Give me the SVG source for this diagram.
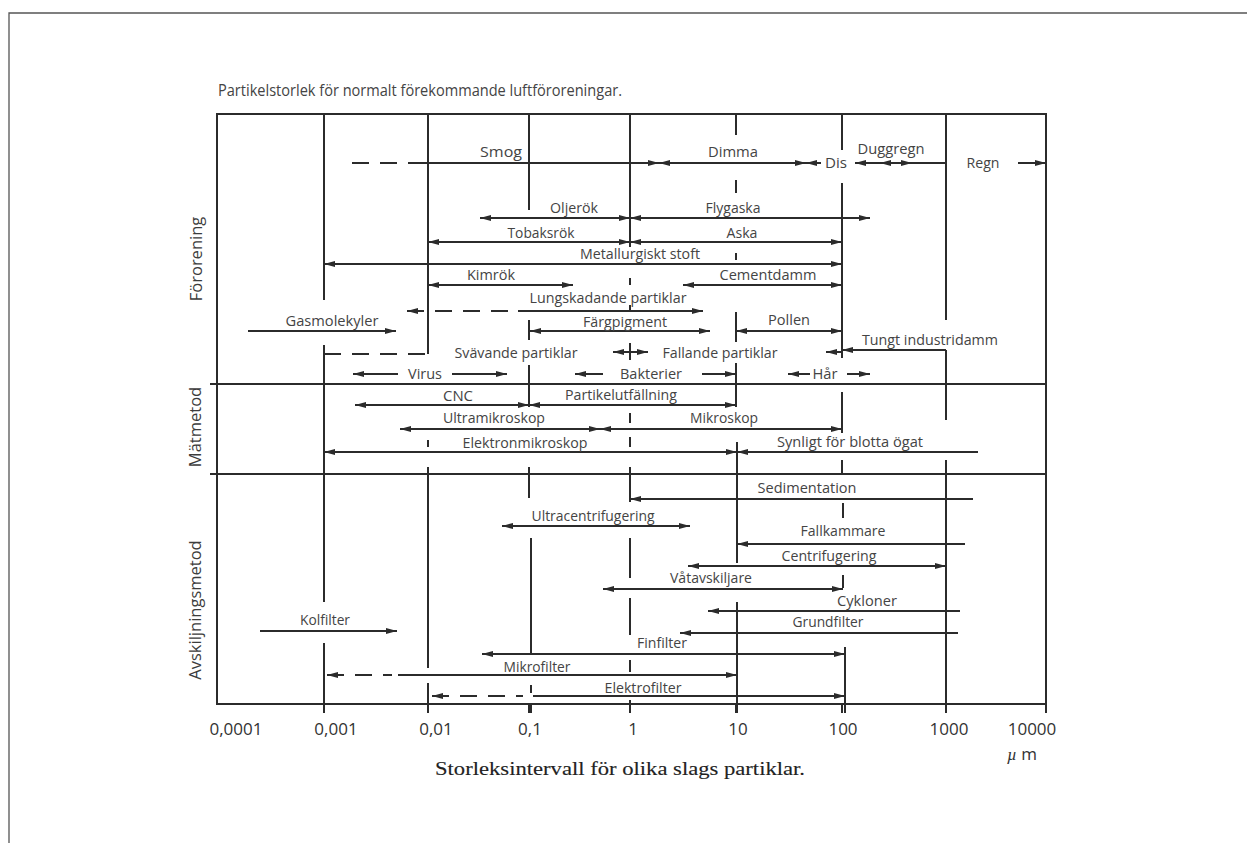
<svg xmlns="http://www.w3.org/2000/svg" width="1247" height="843" viewBox="0 0 1247 843">
<style>
.ln{stroke:#2b2b2b;stroke-width:2;fill:none}
.dsh{stroke:#2b2b2b;stroke-width:2;fill:none;stroke-dasharray:17 11}
.ar{marker-end:url(#ah)}
.al{marker-start:url(#ah)}
.t{font-family:"Open Sans","Liberation Sans",sans-serif;font-size:14px;fill:#444;text-anchor:middle}
.ax{font-family:"Open Sans","Liberation Sans",sans-serif;font-size:17px;fill:#333;text-anchor:middle}
.yl{font-family:"Open Sans","Liberation Sans",sans-serif;font-size:16.5px;fill:#3c3c3c;text-anchor:middle}
.cap{font-family:"Liberation Serif",serif;font-size:19px;fill:#222;stroke:#222;stroke-width:0.12}
.pg{stroke:#555;stroke-width:1.3;fill:none}
</style>
<defs>
<marker id="ah" viewBox="0 0 11 7" refX="11" refY="3.5" markerWidth="11" markerHeight="7" markerUnits="userSpaceOnUse" orient="auto-start-reverse">
<path d="M0,0.5 L11,3.5 L0,6.5 Z" fill="#2b2b2b"/>
</marker>
</defs>
<rect width="1247" height="843" fill="#fff"/>
<path class="pg" d="M9,843 V13 H1247"/>
<text x="218" y="96" font-family="Open Sans, Liberation Sans, sans-serif" font-size="16" fill="#444" textLength="404" lengthAdjust="spacingAndGlyphs">Partikelstorlek för normalt förekommande luftföroreningar.</text>

<g id="frame">
<rect class="ln" x="217" y="114" width="829" height="590"/>
<path class="ln" d="M210,384 H1046 M210,474 H1046"/>
<path class="ln" d="M1046,704 V713 M324,704 V713 M428,704 V713 M529,704 V713 M630,704 V713 M736,704 V713 M842,704 V713 M946,704 V713"/>
</g>
<g id="gridlines">
<path class="ln" d="M324,114 V300 M324,345 V602 M324,643 V713"/>
<path class="ln" d="M428,114 V354 M428,440 V447 M428,467 V668 M428,683 V713"/>
<path class="ln" d="M529,114 V210 M529,320 V340 M529,365 V407 M529,467 V498 M531,538 V653 M531,685 V693 M531,703 V713"/>
<path class="ln" d="M630,114 V247 M630,278 V285 M630,305 V311 M630,343 V360 M630,413 V423 M630,437 V447 M630,467 V502 M630,538 V578 M630,598 V635 M630,660 V672 M630,700 V713"/>
<path class="ln" d="M736,114 V135 M736,180 V193 M736,253 V260 M736,312 V342 M736,363 V407 M737,442 V563 M737,602 V713"/>
<path class="ln" d="M842,114 V150 M842,183 V358 M842,392 V433 M842,460 V473 M843,503 V518 M843,575 V588 M845,647 V713"/>
<path class="ln" d="M946,114 V320 M946,350 V420 M946,460 V713"/>
</g>

<g id="axis-labels">
<text class="ax" x="236" y="735">0,0001</text>
<text class="ax" x="336" y="735">0,001</text>
<text class="ax" x="436" y="735">0,01</text>
<text class="ax" x="530" y="735">0,1</text>
<text class="ax" x="633" y="735">1</text>
<text class="ax" x="738" y="735">10</text>
<text class="ax" x="843" y="735">100</text>
<text class="ax" x="949" y="735">1000</text>
<text class="ax" x="1032" y="735">10000</text>
<text class="ax" x="1022" y="760"><tspan font-family="Liberation Serif, serif" font-style="italic">µ</tspan> m</text>
<text class="cap" x="435" y="775" textLength="370" lengthAdjust="spacingAndGlyphs">Storleksintervall för olika slags partiklar.</text>
<text class="yl" transform="translate(202,259) rotate(-90)">Förorening</text>
<text class="yl" transform="translate(201,427) rotate(-90)">Mätmetod</text>
<text class="yl" transform="translate(201,610) rotate(-90)">Avskiljningsmetod</text>
</g>

<g id="connectors">
<g id="smog"><path class="dsh" d="M352,163 H425"/><path class="ln ar" d="M425,163 H659"/><text class="t" x="501" y="157" textLength="42" lengthAdjust="spacingAndGlyphs">Smog</text></g>
<g id="dimma"><path class="ln al ar" d="M659,163 H806"/><text class="t" x="733" y="157" textLength="50" lengthAdjust="spacingAndGlyphs">Dimma</text></g>
<g id="dis"><path class="ln al" d="M806,163 H821"/><text class="t" x="836" y="168" textLength="22" lengthAdjust="spacingAndGlyphs">Dis</text></g>
<g id="duggregn"><path class="ln al" d="M855,163 H880"/><path class="ln al ar" d="M880,163 H912"/><path class="ln" d="M912,163 H946"/><text class="t" x="891" y="154" textLength="67" lengthAdjust="spacingAndGlyphs">Duggregn</text></g>
<g id="regn"><path class="ln ar" d="M1018,163 H1046"/><text class="t" x="983" y="168" textLength="33" lengthAdjust="spacingAndGlyphs">Regn</text></g>

<g id="oljerok"><path class="ln al ar" d="M480,218 H630"/><text class="t" x="574" y="213" textLength="48" lengthAdjust="spacingAndGlyphs">Oljerök</text></g>
<g id="flygaska"><path class="ln al ar" d="M630,218 H870"/><text class="t" x="733" y="213" textLength="55" lengthAdjust="spacingAndGlyphs">Flygaska</text></g>
<g id="tobaksrok"><path class="ln al ar" d="M428,242 H630"/><text class="t" x="541" y="238" textLength="67" lengthAdjust="spacingAndGlyphs">Tobaksrök</text></g>
<g id="aska"><path class="ln al ar" d="M630,242 H842"/><text class="t" x="742" y="238" textLength="31" lengthAdjust="spacingAndGlyphs">Aska</text></g>
<g id="metall"><path class="ln al ar" d="M324,264 H842"/><text class="t" x="640" y="259" textLength="120" lengthAdjust="spacingAndGlyphs">Metallurgiskt stoft</text></g>
<g id="kimrok"><path class="ln al ar" d="M428,285 H573"/><text class="t" x="491" y="280" textLength="48" lengthAdjust="spacingAndGlyphs">Kimrök</text></g>
<g id="cementdamm"><path class="ln al ar" d="M683,285 H842"/><text class="t" x="768" y="280" textLength="97" lengthAdjust="spacingAndGlyphs">Cementdamm</text></g>
<g id="lungskadande"><path class="dsh al" d="M407,311 H518"/><path class="ln ar" d="M518,311 H703"/><text class="t" x="608" y="303" textLength="157" lengthAdjust="spacingAndGlyphs">Lungskadande partiklar</text></g>
<g id="gasmolekyler"><path class="ln ar" d="M248,331 H396"/><text class="t" x="332" y="326" textLength="93" lengthAdjust="spacingAndGlyphs">Gasmolekyler</text></g>
<g id="fargpigment"><path class="ln al ar" d="M530,331 H710"/><text class="t" x="625" y="327" textLength="84" lengthAdjust="spacingAndGlyphs">Färgpigment</text></g>
<g id="pollen"><path class="ln al ar" d="M736,331 H842"/><text class="t" x="789" y="325" textLength="42" lengthAdjust="spacingAndGlyphs">Pollen</text></g>
<g id="svavande"><path class="dsh" d="M324,354 H428"/><path class="ln ar" d="M630,352 H613"/><text class="t" x="516" y="358" textLength="123" lengthAdjust="spacingAndGlyphs">Svävande partiklar</text></g>
<g id="fallande"><path class="ln ar" d="M630,352 H648"/><path class="ln ar" d="M842,352 H826"/><text class="t" x="720" y="358" textLength="115" lengthAdjust="spacingAndGlyphs">Fallande partiklar</text></g>
<g id="tungt"><path class="ln al" d="M842,350 H946"/><text class="t" x="930" y="345" textLength="136" lengthAdjust="spacingAndGlyphs">Tungt industridamm</text></g>
<g id="virus"><path class="ln al" d="M353,374 H398"/><path class="ln ar" d="M452,374 H507"/><text class="t" x="425" y="379" textLength="34" lengthAdjust="spacingAndGlyphs">Virus</text></g>
<g id="bakterier"><path class="ln al" d="M575,374 H603"/><path class="ln ar" d="M702,374 H736"/><text class="t" x="651" y="379" textLength="62" lengthAdjust="spacingAndGlyphs">Bakterier</text></g>
<g id="har"><path class="ln al" d="M788,374 H810"/><path class="ln ar" d="M847,374 H870"/><text class="t" x="825" y="379" textLength="25" lengthAdjust="spacingAndGlyphs">Hår</text></g>

<g id="cnc"><path class="ln al ar" d="M355,405 H529"/><text class="t" x="458" y="401" textLength="30" lengthAdjust="spacingAndGlyphs">CNC</text></g>
<g id="partikelutfallning"><path class="ln al ar" d="M529,405 H736"/><text class="t" x="621" y="400" textLength="112" lengthAdjust="spacingAndGlyphs">Partikelutfällning</text></g>
<g id="ultramikroskop"><path class="ln al ar" d="M400,429 H600"/><text class="t" x="494" y="423" textLength="102" lengthAdjust="spacingAndGlyphs">Ultramikroskop</text></g>
<g id="mikroskop"><path class="ln al ar" d="M600,429 H842"/><text class="t" x="724" y="423" textLength="68" lengthAdjust="spacingAndGlyphs">Mikroskop</text></g>
<g id="elektronmikroskop"><path class="ln al ar" d="M324,452 H737"/><text class="t" x="525" y="448" textLength="125" lengthAdjust="spacingAndGlyphs">Elektronmikroskop</text></g>
<g id="synligt"><path class="ln al" d="M737,452 H978"/><text class="t" x="850" y="447" textLength="146" lengthAdjust="spacingAndGlyphs">Synligt för blotta ögat</text></g>

<g id="sedimentation"><path class="ln al" d="M630,499 H973"/><text class="t" x="807" y="493" textLength="99" lengthAdjust="spacingAndGlyphs">Sedimentation</text></g>
<g id="ultracentrifugering"><path class="ln al ar" d="M502,526 H690"/><text class="t" x="593" y="521" textLength="123" lengthAdjust="spacingAndGlyphs">Ultracentrifugering</text></g>
<g id="fallkammare"><path class="ln al" d="M737,544 H965"/><text class="t" x="843" y="536" textLength="85" lengthAdjust="spacingAndGlyphs">Fallkammare</text></g>
<g id="centrifugering"><path class="ln al ar" d="M688,566 H946"/><text class="t" x="829" y="561" textLength="95" lengthAdjust="spacingAndGlyphs">Centrifugering</text></g>
<g id="vatavskiljare"><path class="ln al ar" d="M603,589 H843"/><text class="t" x="711" y="583" textLength="82" lengthAdjust="spacingAndGlyphs">Våtavskiljare</text></g>
<g id="cykloner"><path class="ln al" d="M708,611 H960"/><text class="t" x="867" y="606" textLength="60" lengthAdjust="spacingAndGlyphs">Cykloner</text></g>
<g id="grundfilter"><path class="ln al" d="M680,633 H958"/><text class="t" x="828" y="627" textLength="71" lengthAdjust="spacingAndGlyphs">Grundfilter</text></g>
<g id="finfilter"><path class="ln al ar" d="M482,654 H845"/><text class="t" x="662" y="648" textLength="50" lengthAdjust="spacingAndGlyphs">Finfilter</text></g>
<g id="kolfilter"><path class="ln ar" d="M260,631 H397"/><text class="t" x="325" y="625" textLength="50" lengthAdjust="spacingAndGlyphs">Kolfilter</text></g>
<g id="mikrofilter"><path class="dsh al" d="M327,675 H392"/><path class="ln ar" d="M398,675 H737"/><text class="t" x="537" y="672" textLength="67" lengthAdjust="spacingAndGlyphs">Mikrofilter</text></g>
<g id="elektrofilter"><path class="dsh al" d="M432,696 H523"/><path class="ln ar" d="M533,696 H845"/><text class="t" x="643" y="693" textLength="77" lengthAdjust="spacingAndGlyphs">Elektrofilter</text></g>
</g>
</svg>
